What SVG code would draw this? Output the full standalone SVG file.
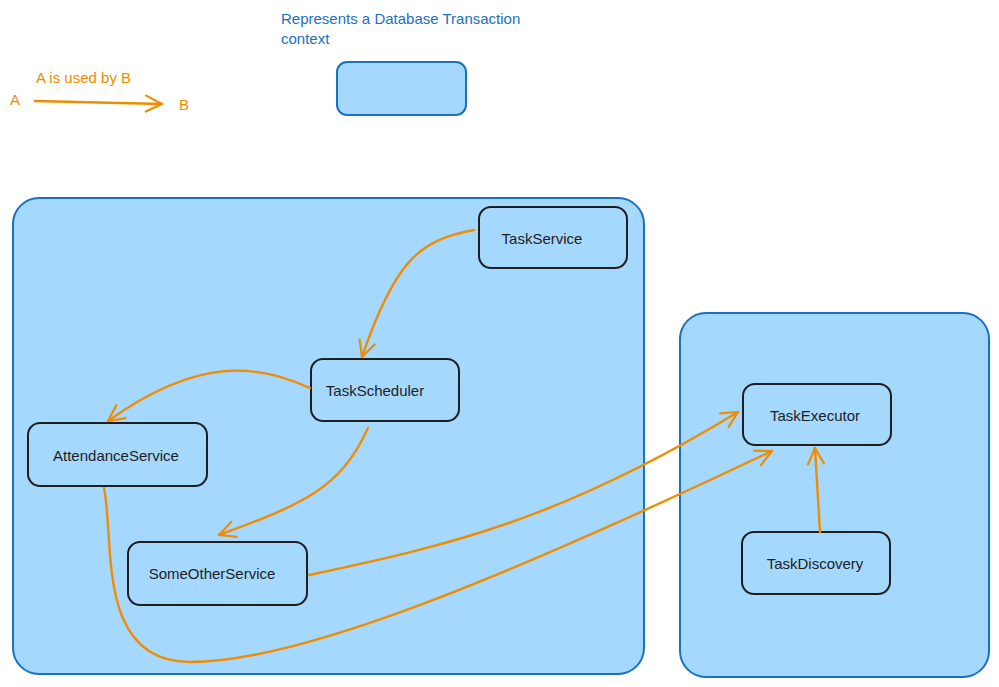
<svg xmlns="http://www.w3.org/2000/svg" width="999" height="687" viewBox="0 0 999 687">
<defs>
<marker id="ah" viewBox="0 0 20 20" refX="18" refY="10" markerWidth="20" markerHeight="20" markerUnits="userSpaceOnUse" orient="auto">
<path d="M2,2 L18,10 L2,18" fill="none" stroke="#f08c00" stroke-width="2.2" stroke-linecap="round" stroke-linejoin="round"/>
</marker>
<style>
.ctx{fill:#a5d8ff;stroke:#1971c2;stroke-width:2}
.node{fill:#a5d8ff;stroke:#1e1e1e;stroke-width:2}
.lbl{font-family:"Liberation Sans",Arial,sans-serif;font-size:15px;fill:#1e1e1e;text-anchor:middle}
.note{font-family:"Liberation Sans",Arial,sans-serif;font-size:15px;fill:#1971c2}
.leg{font-family:"Liberation Sans",Arial,sans-serif;font-size:15px;fill:#f08c00}
.edge{fill:none;stroke:#f08c00;stroke-width:2.4;stroke-linecap:round;marker-end:url(#ah)}
</style>
</defs>
<rect width="999" height="687" fill="#ffffff"/>
<g id="legend">
<text class="note" x="281" y="24">Represents a Database Transaction</text>
<text class="note" x="281" y="44">context</text>
<rect class="ctx" x="337" y="62" width="129" height="53" rx="10"/>
<text class="leg" x="36" y="83">A is used by B</text>
<text class="leg" x="10" y="105">A</text>
<text class="leg" x="179" y="110">B</text>
<path class="edge" d="M35,101 L162,104"/>
</g>
<g id="context-main"><rect class="ctx" x="13" y="198" width="631" height="476" rx="26"/></g>
<g id="context-exec"><rect class="ctx" x="680" y="313" width="309" height="364" rx="26"/></g>
<g id="TaskService"><rect class="node" x="479" y="207" width="148" height="61" rx="12"/><text class="lbl" x="542" y="244">TaskService</text></g>
<g id="TaskScheduler"><rect class="node" x="311" y="359" width="148" height="62" rx="12"/><text class="lbl" x="375" y="396">TaskScheduler</text></g>
<g id="AttendanceService"><rect class="node" x="28" y="423" width="179" height="63" rx="12"/><text class="lbl" x="116" y="461">AttendanceService</text></g>
<g id="SomeOtherService"><rect class="node" x="128" y="542" width="179" height="63" rx="12"/><text class="lbl" x="212" y="579">SomeOtherService</text></g>
<g id="TaskExecutor"><rect class="node" x="743" y="384" width="148" height="61" rx="12"/><text class="lbl" x="815" y="421">TaskExecutor</text></g>
<g id="TaskDiscovery"><rect class="node" x="742" y="532" width="148" height="62" rx="12"/><text class="lbl" x="815" y="569">TaskDiscovery</text></g>
<g id="connectors">
<path class="edge" d="M474,230 C420,240 395,260 362,357"/>
<path class="edge" d="M310,388 C260,365 200,355 108,421"/>
<path class="edge" d="M368,428 C340,490 300,505 219,535"/>
<path class="edge" d="M309,575 C450,545 560,520 738,412"/>
<path class="edge" d="M104,488 C115,540 95,662 190,662 C300,662 500,580 772,451"/>
<path class="edge" d="M820,532 L815,448"/>
</g>
</svg>
